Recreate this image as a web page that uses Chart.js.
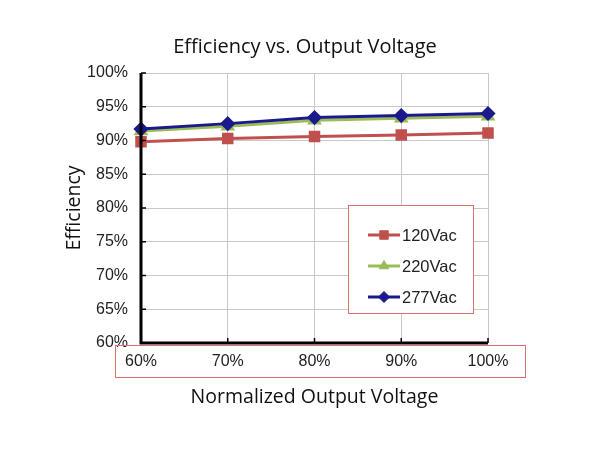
<!DOCTYPE html>
<html>
<head>
<meta charset="utf-8">
<script src="https://cdn.jsdelivr.net/npm/chart.js@4/dist/chart.umd.min.js"></script>
<style>
  html, body { margin: 0; padding: 0; background: #fff; }
  #wrap { width: 600px; height: 450px; }
</style>
</head>
<body>
<div id="wrap"><canvas id="grafica"></canvas></div>
<script>
// datos
const categorias = ['60%', '70%', '80%', '90%', '100%'];
const series = ['120Vac', '220Vac', '277Vac'];
const ef120 = [89.8, 90.3, 90.6, 90.8, 91.1];
const ef220 = [91.4, 92.1, 93.0, 93.3, 93.6];
const ef277 = [91.7, 92.5, 93.4, 93.7, 94.0];
const colores = ['#c0504d', '#9bbb59', '#1a1a8c'];
const marcadores = ['rect', 'triangle', 'rectRot'];
const tamanos = [6, 5.5, 5.5];

const fuente = "'Liberation Sans', Arial, sans-serif";
const fuenteTitulo = "'Open Sans', 'Noto Sans', sans-serif";

// titulo, ticks hacia dentro, leyenda y recuadros rojos
const extras = {
  id: 'extras',
  afterDraw(chart) {
    const ctx = chart.ctx;
    const a = chart.chartArea;
    const x = chart.scales.x, y = chart.scales.y;
    ctx.save();
    ctx.fillStyle = '#111';
    ctx.font = '20px ' + fuenteTitulo;
    ctx.textAlign = 'center';
    ctx.textBaseline = 'middle';
    ctx.fillText('Efficiency vs. Output Voltage', 305, 47);
    ctx.textAlign = 'left';

    ctx.strokeStyle = '#000';
    ctx.lineWidth = 1.5;
    y.ticks.forEach((t, i) => {
      const py = y.getPixelForTick(i);
      ctx.beginPath(); ctx.moveTo(a.left, py); ctx.lineTo(a.left + 5, py); ctx.stroke();
    });
    x.ticks.forEach((t, i) => {
      const px = x.getPixelForTick(i);
      ctx.beginPath(); ctx.moveTo(px, a.bottom); ctx.lineTo(px, a.bottom - 5); ctx.stroke();
    });
    // ejes negros
    ctx.lineWidth = 3;
    ctx.beginPath();
    ctx.moveTo(a.left, a.top); ctx.lineTo(a.left, a.bottom); ctx.lineTo(a.right, a.bottom);
    ctx.stroke();

    // recuadro rojo de etiquetas x
    ctx.strokeStyle = '#e07070';
    ctx.lineWidth = 1;
    ctx.strokeRect(115.5, 345.5, 410, 32);

    // leyenda
    ctx.fillStyle = '#fff';
    ctx.fillRect(348, 205, 125, 108);
    ctx.strokeRect(348.5, 205.5, 125, 108);
    ctx.font = '16.5px ' + fuente;
    series.forEach((nombre, i) => {
      const ly = 235 + i * 31;
      ctx.strokeStyle = colores[i];
      ctx.lineWidth = 3;
      ctx.beginPath(); ctx.moveTo(368, ly); ctx.lineTo(400, ly); ctx.stroke();
      ctx.fillStyle = colores[i];
      ctx.lineWidth = 1;
      Chart.helpers.drawPoint(ctx, { pointStyle: marcadores[i], radius: tamanos[i], borderWidth: 1, rotation: 0 }, 384, ly);
      ctx.fillStyle = '#222';
      ctx.fillText(nombre, 402, ly + 1);
    });
    ctx.restore();
  }
};

const datos = [ef120, ef220, ef277];

new Chart(document.getElementById('grafica'), {
  type: 'line',
  data: {
    labels: categorias,
    datasets: series.map((nombre, i) => ({
      label: nombre,
      data: datos[i],
      borderColor: colores[i],
      backgroundColor: colores[i],
      borderWidth: 3,
      pointStyle: marcadores[i],
      pointRadius: tamanos[i],
      pointHoverRadius: tamanos[i],
      tension: 0,
      clip: false,
      order: 3 - i
    }))
  },
  options: {
    responsive: true,
    maintainAspectRatio: false,
    animation: false,
    layout: { padding: { left: 0, right: 112, top: 73, bottom: 0 } },
    plugins: {
      legend: { display: false },
      tooltip: { enabled: false },
      title: { display: false }
    },
    scales: {
      x: {
        offset: false,
        grid: { color: '#c8c8c8', lineWidth: 1, drawTicks: false },
        border: { display: false },
        ticks: { color: '#222', font: { family: fuente, size: 16 }, padding: 9 },
        title: {
          display: true,
          text: 'Normalized Output Voltage',
          color: '#111',
          font: { family: fuenteTitulo, size: 19.5 },
          padding: { top: 0, bottom: 41 }
        },
        afterFit(scale) { scale.height = 107; }
      },
      y: {
        min: 60,
        max: 100,
        grid: { color: '#c8c8c8', lineWidth: 1, drawTicks: false },
        border: { display: false },
        ticks: {
          stepSize: 5,
          color: '#222',
          font: { family: fuente, size: 16 },
          padding: 13,
          callback: v => v + '%'
        },
        title: {
          display: true,
          text: 'Efficiency',
          color: '#111',
          font: { family: fuenteTitulo, size: 19.5 },
          padding: { top: 63, bottom: 0 }
        },
        afterFit(scale) { scale.width = 141; }
      }
    }
  },
  plugins: [extras]
});
</script>
</body>
</html>
